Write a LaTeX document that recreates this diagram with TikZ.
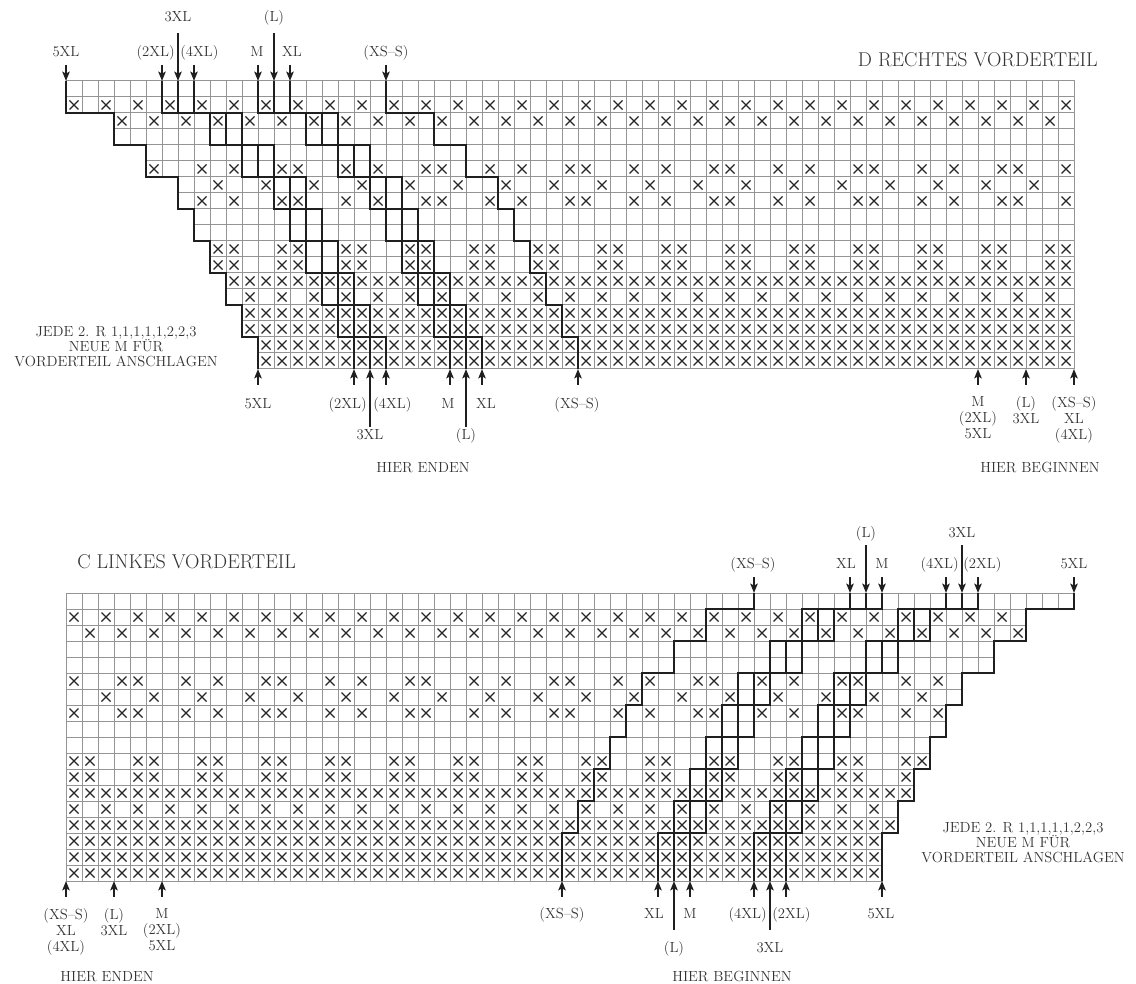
\documentclass[tikz,border=0pt]{standalone}
\usetikzlibrary{arrows.meta}
\newcommand\topstair[1]{\draw[sizeline] ({66+16*(#1)},81) |- ({66+16*(3+#1)},113) |- ({66+16*(5+#1)},145) |- ({66+16*(7+#1)},177) |- ({66+16*(8+#1)},209) |- ({66+16*(9+#1)},241) |- ({66+16*(10+#1)},273) |- ({66+16*(11+#1)},305) |- ({66+16*(12+#1)},337) -- ({66+16*(12+#1)},369);}
\newcommand\botstair[1]{\draw[sizeline] ({66+16*(63-#1)},593) |- ({66+16*(60-#1)},609) |- ({66+16*(58-#1)},641) |- ({66+16*(56-#1)},673) |- ({66+16*(55-#1)},705) |- ({66+16*(54-#1)},737) |- ({66+16*(53-#1)},769) |- ({66+16*(52-#1)},801) |- ({66+16*(51-#1)},833) -- ({66+16*(51-#1)},881);}
\newcommand\mkarrow[4]{\coordinate (#1-s) at (#2,#3); \coordinate (#1-e) at (#2,#4); \draw[arr] (#1-s) -- (#1-e);}
\begin{document}
\begin{tikzpicture}[x=0.75pt,y=-0.75pt,
  gridline/.style={draw=black!42, line width=0.75pt},
  xmark/.style={draw=black!85, line width=0.95pt},
  sizeline/.style={draw=black!88, line width=1.5pt},
  arr/.style={draw=black!88, line width=1.5pt, -{Stealth[length=7pt,width=5.5pt,inset=1.5pt]}},
  lbl/.style={font=\fontsize{11}{12}\selectfont, text=black!80, inner sep=0pt},
  lblm/.style={lbl, align=center, anchor=north},
  note/.style={font=\fontsize{11}{11.4}\selectfont, text=black!80, inner sep=0pt, align=center, anchor=north},
  ttl/.style={font=\fontsize{15}{17}\selectfont, text=black!80, inner sep=0pt}
]
\useasboundingbox (0,0) rectangle (1136,984);

% ---------- D: top chart grid and stitches ----------
\foreach \r [count=\i from 0] in {1,...,18} {
  \pgfmathtruncatemacro\Lr{{0,0,3,3,5,5,7,7,8,8,9,9,10,10,11,11,12,12}[\i]}
  \pgfmathsetmacro\yt{81+16*(\r-1)}
  \foreach \c in {\Lr,...,62} {
    \draw[gridline] ({66+16*\c},\yt) rectangle ++(16,16);
    \pgfmathtruncatemacro\isx{(\r==2)*(mod(\c,2)==0)+(\r==3)*(mod(\c,2)==1)+or(\r==6,\r==8)*or(or(mod(\c,9)==1,mod(\c,9)==4),or(mod(\c,9)==5,mod(\c,9)==8))+(\r==7)*(mod(\c,3)==0)+or(\r==11,\r==12)*or(mod(\c,4)==1,mod(\c,4)==2)+or(\r==13,\r>14)+(\r==14)*(mod(\c,2)==1)}
    \ifnum\isx>0
      \draw[xmark] ({69.5+16*\c},{\yt+3.5}) -- ++(9,9) ({69.5+16*\c},{\yt+12.5}) -- ++(9,-9);
    \fi
  }
}

% ---------- C: bottom chart grid and stitches ----------
\foreach \r [count=\i from 0] in {1,...,18} {
  \pgfmathtruncatemacro\Rm{{62,59,59,57,57,55,55,54,54,53,53,52,52,51,51,50,50,50}[\i]}
  \pgfmathsetmacro\yt{593+16*(\r-1)}
  \foreach \c in {0,...,\Rm} {
    \draw[gridline] ({66+16*\c},\yt) rectangle ++(16,16);
    \pgfmathtruncatemacro\isx{(\r==2)*(mod(\c,2)==0)+(\r==3)*(mod(\c,2)==1)+or(\r==6,\r==8)*or(or(mod(\c,9)==0,mod(\c,9)==3),or(mod(\c,9)==4,mod(\c,9)==7))+(\r==7)*(mod(\c,3)==2)+or(\r==11,\r==12)*or(mod(\c,4)==0,mod(\c,4)==1)+or(\r==13,\r>14)+(\r==14)*(mod(\c,2)==0)}
    \ifnum\isx>0
      \draw[xmark] ({69.5+16*\c},{\yt+3.5}) -- ++(9,9) ({69.5+16*\c},{\yt+12.5}) -- ++(9,-9);
    \fi
  }
}

% ---------- size outlines ----------
\foreach \d in {0,6,7,8,12,13,14,20} { \topstair{\d} \botstair{\d} }

% ---------- arrows, top chart ----------
\mkarrow{ta5xl}{66}{65}{81}
\mkarrow{ta2xl}{162}{65}{81}
\mkarrow{ta3xl}{178}{33}{81}
\mkarrow{ta4xl}{194}{65}{81}
\mkarrow{tam}{258}{65}{81}
\mkarrow{tal}{274}{33}{81}
\mkarrow{taxl}{290}{65}{81}
\mkarrow{taxs}{386}{65}{81}
\mkarrow{tb5xl}{258}{385}{369}
\mkarrow{tb2xl}{354}{385}{369}
\mkarrow{tb3xl}{370}{427}{369}
\mkarrow{tb4xl}{386}{385}{369}
\mkarrow{tbm}{450}{385}{369}
\mkarrow{tbl}{466}{427}{369}
\mkarrow{tbxl}{482}{385}{369}
\mkarrow{tbxs}{578}{385}{369}
\mkarrow{tbr1}{978}{385}{369}
\mkarrow{tbr2}{1026}{385}{369}
\mkarrow{tbr3}{1074}{385}{369}

% ---------- arrows, bottom chart ----------
\mkarrow{ba5xl}{1074}{577}{593}
\mkarrow{ba2xl}{978}{577}{593}
\mkarrow{ba3xl}{962}{545}{593}
\mkarrow{ba4xl}{946}{577}{593}
\mkarrow{bam}{882}{577}{593}
\mkarrow{bal}{866}{545}{593}
\mkarrow{baxl}{850}{577}{593}
\mkarrow{baxs}{754}{577}{593}
\mkarrow{bb5xl}{882}{897}{881}
\mkarrow{bb2xl}{786}{897}{881}
\mkarrow{bb3xl}{770}{930}{881}
\mkarrow{bb4xl}{754}{897}{881}
\mkarrow{bbm}{690}{897}{881}
\mkarrow{bbl}{674}{930}{881}
\mkarrow{bbxl}{658}{897}{881}
\mkarrow{bbxs}{562}{897}{881}
\mkarrow{bbl1}{66}{897}{881}
\mkarrow{bbl2}{114}{897}{881}
\mkarrow{bbl3}{162}{897}{881}

% ---------- labels, top chart ----------
\node[ttl, anchor=base east] (dtitle) at (1098,67) {D RECHTES VORDERTEIL};
\node[lbl, anchor=base] (t5xl) at (66,57) {5XL};
\node[lbl, anchor=base east] (t2xl) at (175,57) {(2XL)};
\node[lbl, anchor=base] (t3xl) at (178,22) {3XL};
\node[lbl, anchor=base west] (t4xl) at (180,57) {(4XL)};
\node[lbl, anchor=base] (tm) at (257,57) {M};
\node[lbl, anchor=base] (tl) at (274,22) {(L)};
\node[lbl, anchor=base] (txl) at (292,57) {XL};
\node[lbl, anchor=base] (txs) at (386,57) {(XS\textendash S)};
\node[lbl, anchor=base] (u5xl) at (258,408) {5XL};
\node[lbl, anchor=base east] (u2xl) at (367,408) {(2XL)};
\node[lbl, anchor=base west] (u4xl) at (373,408) {(4XL)};
\node[lbl, anchor=base] (u3xl) at (370,440) {3XL};
\node[lbl, anchor=base] (um) at (448,408) {M};
\node[lbl, anchor=base] (uxl) at (486,408) {XL};
\node[lbl, anchor=base] (ul) at (466,440) {(L)};
\node[lbl, anchor=base] (uxs) at (577,408) {(XS\textendash S)};
\node[lblm] (ur1) at (978,396) {M\\(2XL)\\5XL};
\node[lblm] (ur2) at (1026,396) {(L)\\3XL};
\node[lblm] (ur3) at (1074,396) {(XS\textendash S)\\XL\\(4XL)};
\node[lbl, anchor=base] (tende) at (423,472) {HIER ENDEN};
\node[lbl, anchor=base] (tbeg) at (1040,472) {HIER BEGINNEN};
\node[note] (tnote) at (116,326) {JEDE 2. R 1,1,1,1,1,2,2,3\\NEUE M FÜR\\VORDERTEIL ANSCHLAGEN};

% ---------- labels, bottom chart ----------
\node[ttl, anchor=base west] (ctitle) at (77,568) {C LINKES VORDERTEIL};
\node[lbl, anchor=base] (bxs) at (753,568) {(XS\textendash S)};
\node[lbl, anchor=base] (bxl) at (846,568) {XL};
\node[lbl, anchor=base] (bl) at (866,537) {(L)};
\node[lbl, anchor=base] (bm) at (882,568) {M};
\node[lbl, anchor=base east] (b4xl) at (959,568) {(4XL)};
\node[lbl, anchor=base] (b3xl) at (962,537) {3XL};
\node[lbl, anchor=base west] (b2xl) at (963,568) {(2XL)};
\node[lbl, anchor=base] (b5xl) at (1074,568) {5XL};
\node[lblm] (vl1) at (66,908) {(XS\textendash S)\\XL\\(4XL)};
\node[lblm] (vl2) at (114,908) {(L)\\3XL};
\node[lblm] (vl3) at (162,908) {M\\(2XL)\\5XL};
\node[lbl, anchor=base] (vxs) at (562,918) {(XS\textendash S)};
\node[lbl, anchor=base] (vxl) at (654,918) {XL};
\node[lbl, anchor=base] (vl) at (674,952) {(L)};
\node[lbl, anchor=base] (vm) at (690,918) {M};
\node[lbl, anchor=base east] (v4xl) at (767,918) {(4XL)};
\node[lbl, anchor=base] (v3xl) at (770,952) {3XL};
\node[lbl, anchor=base west] (v2xl) at (772,918) {(2XL)};
\node[lbl, anchor=base] (v5xl) at (881,918) {5XL};
\node[lbl, anchor=base] (vende) at (107,981) {HIER ENDEN};
\node[lbl, anchor=base] (vbeg) at (732,981) {HIER BEGINNEN};
\node[note] (vnote) at (1023,822) {JEDE 2. R 1,1,1,1,1,2,2,3\\NEUE M FÜR\\VORDERTEIL ANSCHLAGEN};
\end{tikzpicture}
\end{document}
